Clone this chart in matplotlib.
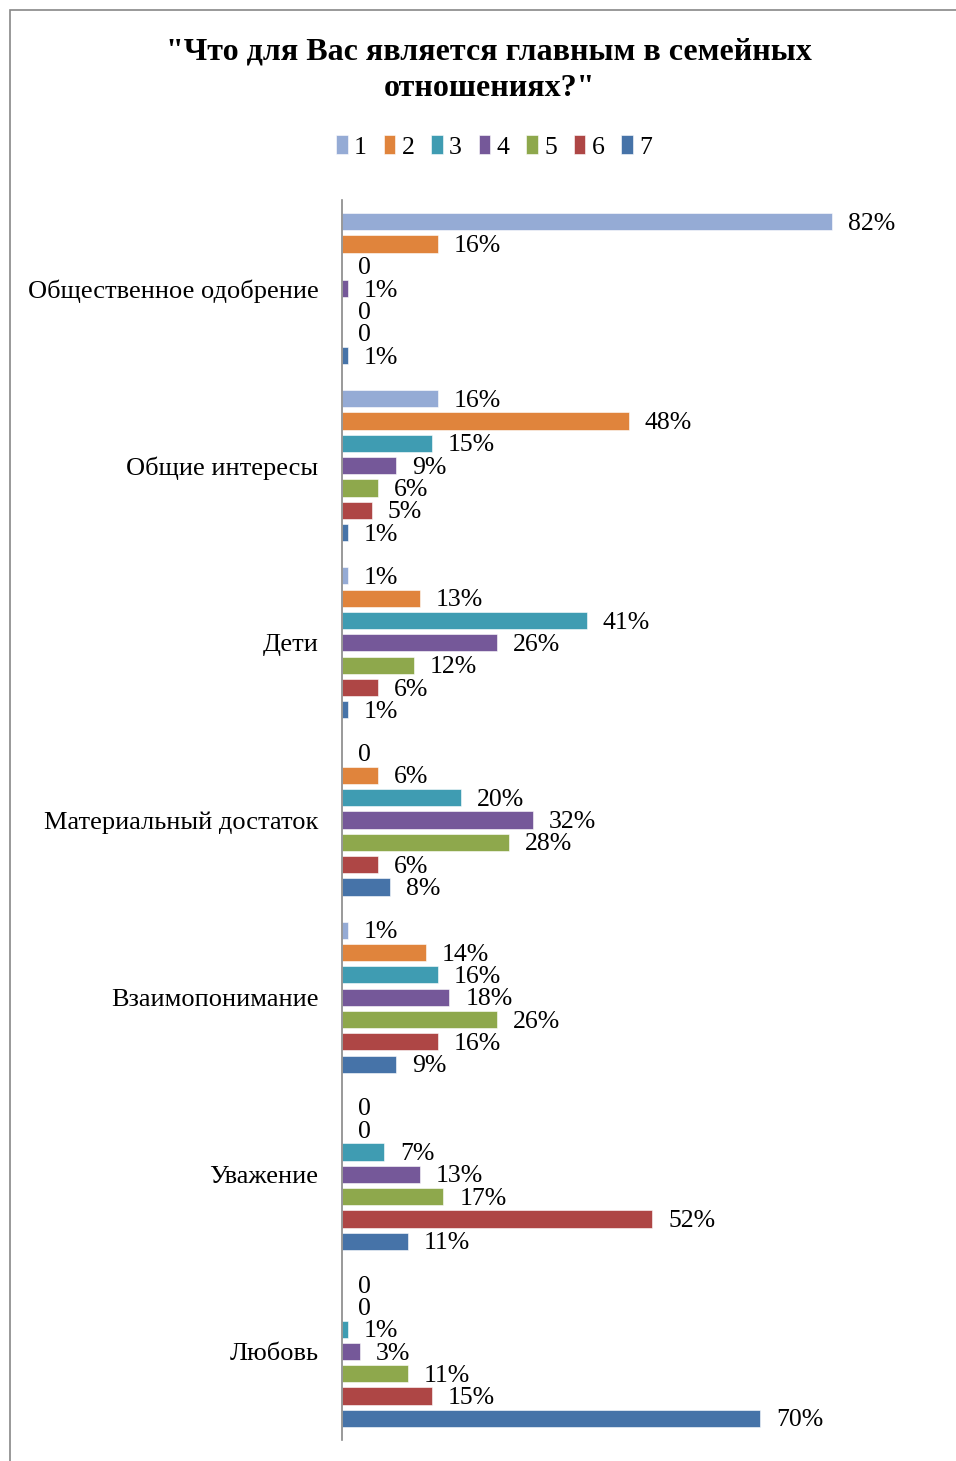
import matplotlib
matplotlib.use("Agg")
import matplotlib.pyplot as plt
from matplotlib.patches import Rectangle
import numpy as np

plt.rcParams['font.family'] = ['Liberation Serif', 'DejaVu Serif']

title = '"Что для Вас является главным в семейных\nотношениях?"'
categories = ["Общественное одобрение", "Общие интересы", "Дети",
              "Материальный достаток", "Взаимопонимание", "Уважение", "Любовь"]
series_names = ["1", "2", "3", "4", "5", "6", "7"]
s1 = [82, 16, 1, 0, 1, 0, 0]
s2 = [16, 48, 13, 6, 14, 0, 0]
s3 = [0, 15, 41, 20, 16, 7, 1]
s4 = [1, 9, 26, 32, 18, 13, 3]
s5 = [0, 6, 12, 28, 26, 17, 11]
s6 = [0, 5, 6, 6, 16, 52, 15]
s7 = [1, 1, 1, 8, 9, 11, 70]
series = [s1, s2, s3, s4, s5, s6, s7]
colors = ["#95ABD5", "#E0843C", "#3F9CB2", "#755899", "#8EA84C", "#AE4645", "#4673A8"]

W, H = 956, 1461
fig = plt.figure(figsize=(W / 100, H / 100), dpi=100)
fig.patch.set_facecolor("white")

# outer frame (partially visible)
fig.add_artist(Rectangle((10 / W, -0.01), 1.0, (H - 10) / H + 0.01, transform=fig.transFigure,
                         fill=False, edgecolor="#888888", linewidth=1.2))

ax = fig.add_axes([342 / W, 21 / H, 597 / W, 1240 / H])
n = len(categories)
y = np.arange(n)
slot = 0.126
bh = 0.097
for i, (vals, c, name) in enumerate(zip(series, colors, series_names)):
    ypos = y + (i - 3) * slot
    ax.barh(ypos, vals, height=bh, color=c, edgecolor="white", linewidth=0.4, label=name)
    for yy, v in zip(ypos, vals):
        lab = "0" if v == 0 else f"{v}%"
        ax.annotate(lab, (v, yy), xytext=(11.5, -1.5), textcoords="offset points",
                    ha="left", va="center", fontsize=18.5)

ax.set_xlim(0, 100)
ax.set_ylim(n - 0.5, -0.5)
ax.set_yticks(y)
ax.set_yticklabels(categories, fontsize=19)
ax.tick_params(axis="y", length=0, pad=17)
ax.set_xticks([])
for s in ["top", "right", "bottom"]:
    ax.spines[s].set_visible(False)
ax.spines["left"].set_color("#888888")
ax.spines["left"].set_linewidth(1.2)

fig.text(489 / W, 1 - 70 / H, title, ha="center", va="center", fontsize=23,
         fontweight="bold", linespacing=1.33)

leg = fig.legend(*ax.get_legend_handles_labels(), loc="center", bbox_to_anchor=(494 / W, 1 - 147 / H),
                 ncol=7, frameon=False, fontsize=18.5, handlelength=0.45, handleheight=0.75,
                 handletextpad=0.25, columnspacing=0.65)

fig.savefig("out.png", dpi=100)
